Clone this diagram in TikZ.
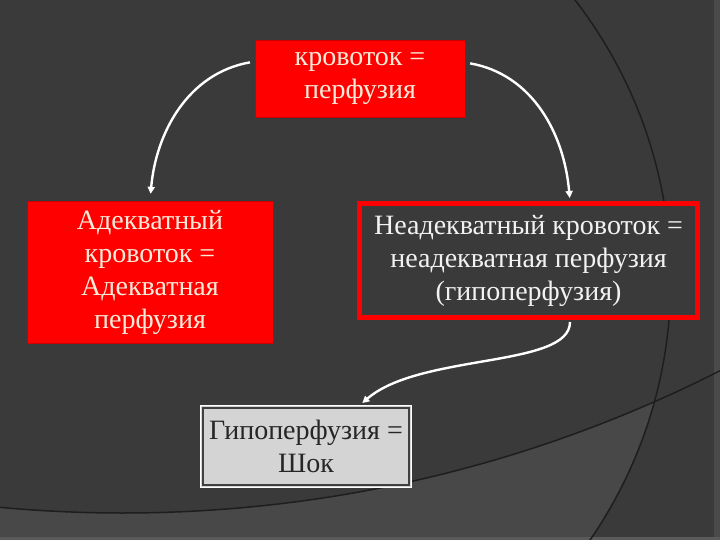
\documentclass[tikz,border=0pt]{standalone}
\usepackage{fontspec}
\setmainfont{Liberation Serif}
\newfontfamily\slidefont{Liberation Serif}
\usetikzlibrary{arrows.meta}

\definecolor{slide}{HTML}{3A3A3A}
\definecolor{slidelight}{HTML}{484848}
\definecolor{arcline}{HTML}{1E1E1E}
\definecolor{cream}{HTML}{F7EBD9}
\definecolor{shockgray}{HTML}{D4D4D4}

\begin{document}
\begin{tikzpicture}
[x = 1pt, y = 1pt,
post/.style = {-{Triangle[length = 7pt, width = 7pt]}, white, line width = 2.4pt},
txt/.style = {font = \slidefont\fontsize{28}{33}\selectfont, align = center, inner sep = 0pt},
redbox/.style = {txt, rectangle, fill = red, draw = red!80!black, text = cream},
holebox/.style = {txt, rectangle, fill = slide, draw = red, line width = 5pt, text = white!95!black},
shockbox/.style = {txt, rectangle, fill = shockgray, draw = white, line width = 1pt, text = black!85}]

% background
\useasboundingbox (0, 0) rectangle (720, -540);
\begin{scope}
\clip (0, 0) rectangle (720, -540);
\fill[slide] (0, 0) rectangle (720, -540);
\begin{scope}
\clip (212.5, -280.3) circle [radius = 458.2];
\fill[slidelight, even odd rule] (0, 0) rectangle (720, -540) (123, 808) circle [radius = 1321];
\end{scope}
\fill[slide!92!white] (714, 0) rectangle (720, -540);
\fill[slidelight!90!white] (0, -537) rectangle (720, -540);
\draw[arcline, line width = 1.5pt] (212.5, -280.3) circle [radius = 458.2];
\draw[arcline, line width = 1.5pt] (123, 808) circle [radius = 1321];
\end{scope}

\node[redbox, minimum width = 210pt, minimum height = 77pt] (flow) at (360, -78.5) {кровоток =\\ перфузия};
\node[redbox, minimum width = 246pt, minimum height = 142pt] (adequate) at (150, -272) {Адекватный\\ кровоток =\\ Адекватная\\ перфузия};
\node[holebox, minimum width = 338pt, minimum height = 114pt] (inadequate) at (528.5, -260.5) {Неадекватный кровоток =\\ неадекватная перфузия\\ (гипоперфузия)};
\node[shockbox, minimum width = 211pt, minimum height = 82pt] (shock) at (306, -446.5) {Гипоперфузия =\\ Шок};
\draw[black!75, line width = 1.5pt] ([shift = {(3pt, -3pt)}]shock.north west) rectangle ([shift = {(-3pt, 3pt)}]shock.south east);

\draw[post, shorten <= 5pt, shorten >= 7pt] ([yshift = 17pt]flow.west) to[out = 190, in = 85] (adequate.north);
\draw[post, shorten <= 5pt, shorten >= 3pt] ([yshift = 16pt]flow.east) to[out = -10, in = 95] ([xshift = 41.5pt]inadequate.north);
\draw[post, shorten <= 2pt, shorten >= 3pt] ([xshift = 41.5pt]inadequate.south) .. controls +(0, -48) and +(60, 52) .. ([xshift = 54pt]shock.north);
\end{tikzpicture}
\end{document}
